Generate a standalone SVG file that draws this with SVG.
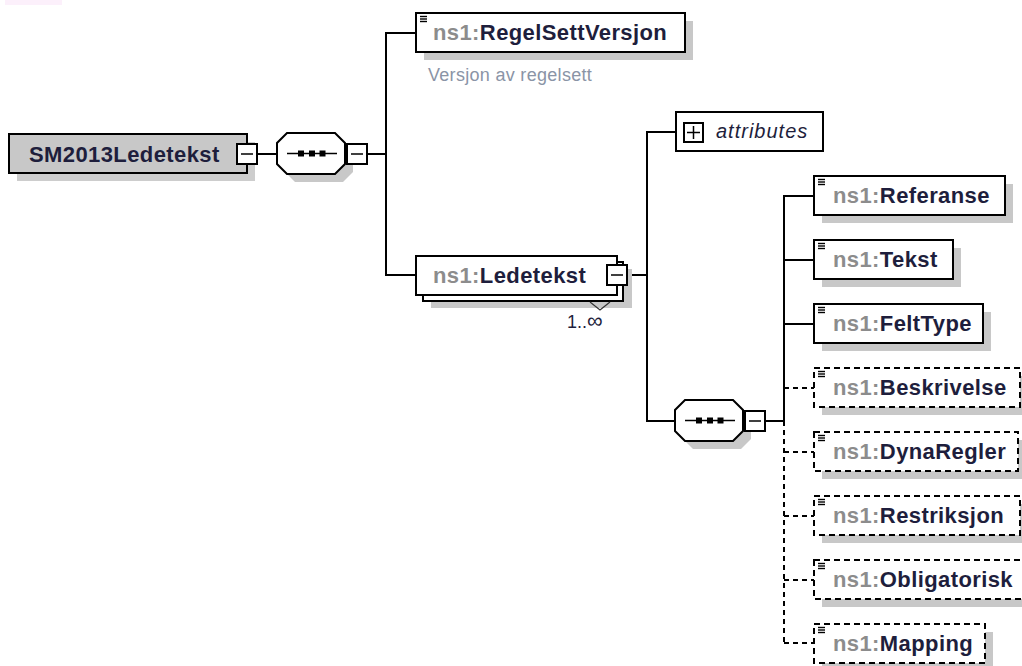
<svg xmlns="http://www.w3.org/2000/svg" width="1022" height="666" viewBox="0 0 1022 666">
<style>
.box{fill:#fff;stroke:#000;stroke-width:2}
.dbox{fill:#fff;stroke:#000;stroke-width:2;stroke-dasharray:6 4}
.sh{fill:#c8c8c8}
.conn{stroke:#000;stroke-width:2;fill:none}
.dconn{stroke:#000;stroke-width:2;fill:none;stroke-dasharray:5 4}
.ico{stroke:#000;stroke-width:1.4}
.thin{stroke:#000;stroke-width:1.5;fill:none}
.name{font-family:"Liberation Sans",Arial,sans-serif;font-size:22px;font-weight:bold;letter-spacing:0.4px;fill:#1e1e3c}
.ns{fill:#8c8c8c}
.doc{font-family:"Liberation Sans",Arial,sans-serif;font-size:18px;letter-spacing:0.3px;fill:#8a94a6}
.occ{font-family:"Liberation Sans",Arial,sans-serif;font-size:18px;fill:#1e1e3c}
.attr{font-family:"Liberation Sans",Arial,sans-serif;font-size:20px;font-style:italic;letter-spacing:1px;fill:#1e1e3c}
</style>
<defs>
<g id="icon"><line class="ico" x1="4" y1="3.5" x2="11" y2="3.5"/><line class="ico" x1="4" y1="6" x2="11" y2="6"/><line class="ico" x1="4" y1="8.5" x2="11" y2="8.5"/></g>
<g id="minus"><rect class="box" x="0" y="0" width="20" height="20"/><line class="thin" x1="4" y1="10" x2="16" y2="10"/></g>
<g id="seq">
<polygon class="sh" points="18,8 66,8 76,18 76,39 66,49 18,49 8,39 8,18"/>
<polygon class="box" points="10,0 58,0 68,10 68,31 58,41 10,41 0,31 0,10"/>
<line class="thin" x1="10" y1="20.5" x2="60" y2="20.5"/>
<rect x="21" y="17.5" width="6" height="6" fill="#000"/>
<rect x="32" y="17.5" width="6" height="6" fill="#000"/>
<rect x="42.5" y="17.5" width="6" height="6" fill="#000"/>
</g>
</defs>
<rect x="5" y="0" width="57" height="5" fill="#fcf0fb"/>
<g id="connectors">
<line class="conn" x1="257" y1="154" x2="277" y2="154"/>
<line class="conn" x1="367" y1="154" x2="386" y2="154"/>
<polyline class="conn" points="416,33 386,33 386,275 416,275"/>
<line class="conn" x1="627" y1="275" x2="647" y2="275"/>
<polyline class="conn" points="676,132 647,132 647,421 675,421"/>
<line class="conn" x1="765" y1="421" x2="784" y2="421"/>
<polyline class="conn" points="814,196 784,196 784,421"/>
<line class="conn" x1="784" y1="260" x2="814" y2="260"/>
<line class="conn" x1="784" y1="324" x2="814" y2="324"/>
<line class="dconn" x1="784" y1="421" x2="784" y2="643"/>
<line class="dconn" x1="784" y1="388" x2="814" y2="388"/>
<line class="dconn" x1="784" y1="452" x2="814" y2="452"/>
<line class="dconn" x1="784" y1="516" x2="814" y2="516"/>
<line class="dconn" x1="784" y1="580" x2="814" y2="580"/>
<line class="dconn" x1="784" y1="643" x2="814" y2="643"/>
</g>
<g id="root">
<rect x="17" y="142" width="238" height="39" fill="#cdcdcd"/>
<rect x="9" y="134" width="238" height="39" fill="#c8c8c8" stroke="#000" stroke-width="2"/>
<text class="name" x="29" y="162">SM2013Ledetekst</text>
<use href="#minus" x="237" y="144"/>
</g>
<g id="seq1"><use href="#seq" x="277" y="133"/><use href="#minus" x="347" y="144"/></g>
<g id="regelsettversjon">
<rect class="sh" x="424" y="21" width="269" height="39"/>
<rect class="box" x="416" y="13" width="269" height="39"/>
<use href="#icon" x="416" y="13"/>
<text class="name" x="433" y="40"><tspan class="ns">ns1:</tspan>RegelSettVersjon</text>
<text class="doc" x="428" y="81">Versjon av regelsett</text>
</g>
<g id="ledetekst">
<rect class="sh" x="431" y="269" width="201" height="39"/>
<rect class="box" x="423" y="262" width="200" height="39"/>
<rect class="box" x="416" y="256" width="201" height="39"/>
<text class="name" x="433" y="283"><tspan class="ns">ns1:</tspan>Ledetekst</text>
<use href="#minus" x="607" y="265"/>
<polyline points="590,302 600,310 610,302" fill="none" stroke="#333" stroke-width="1.2"/>
<text class="occ" x="567" y="328">1..<tspan font-size="22px">∞</tspan></text>
</g>
<g id="attributes">
<rect class="box" x="676" y="112" width="147" height="39"/>
<rect class="box" x="684" y="123" width="19" height="19"/>
<line class="thin" x1="687" y1="132.5" x2="700" y2="132.5"/>
<line class="thin" x1="693.5" y1="126" x2="693.5" y2="139"/>
<text class="attr" x="716" y="138">attributes</text>
</g>
<g id="seq2"><use href="#seq" x="675" y="400"/><use href="#minus" x="745" y="411"/></g>
<g id="referanse">
<rect class="sh" x="822" y="184" width="191" height="39"/>
<rect class="box" x="814" y="176" width="191" height="39"/>
<use href="#icon" x="814" y="176"/>
<text class="name" x="833" y="203"><tspan class="ns">ns1:</tspan>Referanse</text>
</g>
<g id="tekst">
<rect class="sh" x="822" y="248" width="139" height="39"/>
<rect class="box" x="814" y="240" width="139" height="39"/>
<use href="#icon" x="814" y="240"/>
<text class="name" x="833" y="267"><tspan class="ns">ns1:</tspan>Tekst</text>
</g>
<g id="felttype">
<rect class="sh" x="822" y="312" width="169" height="39"/>
<rect class="box" x="814" y="304" width="169" height="39"/>
<use href="#icon" x="814" y="304"/>
<text class="name" x="833" y="331"><tspan class="ns">ns1:</tspan>FeltType</text>
</g>
<g id="beskrivelse">
<rect class="sh" x="822" y="376" width="206" height="39"/>
<rect class="dbox" x="814" y="368" width="206" height="39"/>
<use href="#icon" x="814" y="368"/>
<text class="name" x="833" y="395"><tspan class="ns">ns1:</tspan>Beskrivelse</text>
</g>
<g id="dynaregler">
<rect class="sh" x="822" y="440" width="204" height="39"/>
<rect class="dbox" x="814" y="432" width="204" height="39"/>
<use href="#icon" x="814" y="432"/>
<text class="name" x="833" y="459"><tspan class="ns">ns1:</tspan>DynaRegler</text>
</g>
<g id="restriksjon">
<rect class="sh" x="822" y="504" width="206" height="39"/>
<rect class="dbox" x="814" y="496" width="206" height="39"/>
<use href="#icon" x="814" y="496"/>
<text class="name" x="833" y="523"><tspan class="ns">ns1:</tspan>Restriksjon</text>
</g>
<g id="obligatorisk">
<rect class="sh" x="822" y="568" width="214" height="39"/>
<rect class="dbox" x="814" y="560" width="214" height="39"/>
<use href="#icon" x="814" y="560"/>
<text class="name" x="833" y="587"><tspan class="ns">ns1:</tspan>Obligatorisk</text>
</g>
<g id="mapping">
<rect class="sh" x="822" y="632" width="171" height="39"/>
<rect class="dbox" x="814" y="624" width="171" height="39"/>
<use href="#icon" x="814" y="624"/>
<text class="name" x="833" y="651"><tspan class="ns">ns1:</tspan>Mapping</text>
</g>
</svg>
